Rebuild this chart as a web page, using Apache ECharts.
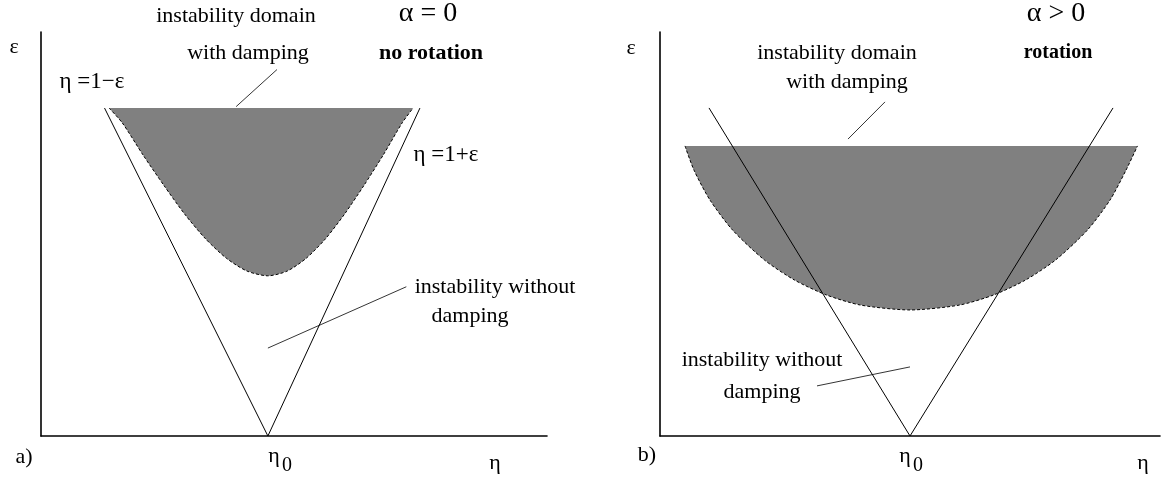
<!DOCTYPE html>
<html>

<head>
    <meta charset="utf-8">
    <title></title>
    <style>
        html, body { margin: 0; padding: 0; background: #fff; }
        #chart { width: 1163px; height: 480px; }
    </style>
</head>

<body>
    <div id="chart"></div>
    <script src="https://cdn.jsdelivr.net/npm/echarts@6/dist/echarts.min.js"></script>
    <script>
    // a) alpha = 0 : eta / epsilon values
    var leftVEta = [0.28, 1.0, 1.67];
    var leftVEps = [0.69, 0.0, 0.69];
    // damped domain boundary, left top -> bottom -> right top
    var leftDomEta = [0.30, 0.358, 0.450, 0.542, 0.633, 0.725, 0.817, 0.908, 1.00, 1.085, 1.169, 1.254, 1.338, 1.423, 1.508, 1.592, 1.64];
    var leftDomEps = [0.69, 0.659, 0.591, 0.527, 0.467, 0.415, 0.374, 0.347, 0.337, 0.347, 0.374, 0.415, 0.467, 0.527, 0.591, 0.659, 0.69];
    var leftPtrTop = [[1.04, 0.771], [0.86, 0.693]];
    var leftPtrLow = [[1.61, 0.314], [1.0, 0.185]];

    // b) alpha > 0
    var rightVEta = [0.196, 1.0, 1.812];
    var rightVEps = [0.812, 0.0, 0.812];
    var rightDomEta = [0.10, 0.136, 0.20, 0.29, 0.417, 0.538, 0.666, 0.803, 1.0, 1.197, 1.334, 1.462, 1.583, 1.71, 1.80, 1.864, 1.91];
    var rightDomEps = [0.718, 0.658, 0.584, 0.510, 0.436, 0.386, 0.349, 0.324, 0.312, 0.324, 0.349, 0.386, 0.436, 0.510, 0.584, 0.658, 0.718];
    var rightPtrTop = [[0.90, 0.827], [0.752, 0.735]];
    var rightPtrLow = [[1.0, 0.171], [0.628, 0.124]];

    var FONT = '"Liberation Serif", "DejaVu Serif", serif';

    function zip(xs, ys) {
        return xs.map(function(x, i) { return [x, ys[i]]; });
    }

    function domain(xs, ys) {
        return function(params, api) {
            var pts = xs.map(function(x, i) { return api.coord([x, ys[i]]); });
            return {
                type: 'group',
                children: [{
                    type: 'polyline',
                    shape: { points: pts, smooth: 0.25 },
                    style: { fill: '#808080', stroke: null }
                }, {
                    type: 'polyline',
                    shape: { points: pts, smooth: 0.25 },
                    style: { fill: null, stroke: '#000', lineWidth: 1, lineDash: [3, 2] }
                }]
            };
        };
    }

    function thin(idx, data, w) {
        return {
            type: 'line', xAxisIndex: idx, yAxisIndex: idx, data: data,
            symbol: 'none', silent: true, animation: false,
            lineStyle: { color: '#000', width: w }
        };
    }

    function txt(x, y, s, size, bold) {
        return {
            type: 'text', x: x, y: y, silent: true,
            style: {
                text: s, fill: '#000', textAlign: 'center', textVerticalAlign: 'middle',
                font: (bold ? 'bold ' : '') + size + 'px ' + FONT
            }
        };
    }

    var axisX = function(idx, max) {
        return {
            type: 'value', gridIndex: idx, min: 0, max: max,
            axisLine: { show: true, onZero: false, lineStyle: { color: '#000', width: 1.6 } },
            axisTick: { show: false }, axisLabel: { show: false }, splitLine: { show: false }
        };
    };
    var axisY = function(idx, max) {
        return {
            type: 'value', gridIndex: idx, min: 0, max: max,
            axisLine: { show: true, onZero: false, lineStyle: { color: '#000', width: 1.6 } },
            axisTick: { show: false }, axisLabel: { show: false }, splitLine: { show: false }
        };
    };

    var myChart = echarts.init(document.getElementById('chart'));

    var option = {
        animation: false,
        grid: [
            { left: 41, top: 32, width: 506, height: 404 },
            { left: 660, top: 32, width: 500, height: 404 }
        ],
        xAxis: [axisX(0, 2.23), axisX(1, 2.0)],
        yAxis: [axisY(0, 0.85), axisY(1, 1.0)],
        series: [{
            type: 'custom', xAxisIndex: 0, yAxisIndex: 0, silent: true,
            data: [[1, 0.5]],
            renderItem: domain(leftDomEta, leftDomEps)
        }, {
            type: 'custom', xAxisIndex: 1, yAxisIndex: 1, silent: true,
            data: [[1, 0.5]],
            renderItem: domain(rightDomEta, rightDomEps)
        },
            thin(0, zip(leftVEta, leftVEps), 1),
            thin(1, zip(rightVEta, rightVEps), 1),
            thin(0, leftPtrTop, 0.8),
            thin(0, leftPtrLow, 0.8),
            thin(1, rightPtrTop, 0.8),
            thin(1, rightPtrLow, 0.8)
        ],
        graphic: [
            // a)
            txt(236, 16, 'instability domain', 22),
            txt(428, 14, 'α = 0', 28),
            txt(14, 47, 'ε', 22),
            txt(248, 53, 'with damping', 22),
            txt(431, 53, 'no rotation', 22, true),
            txt(92, 82, 'η =1−ε', 23),
            txt(446, 155, 'η =1+ε', 23),
            txt(495, 287, 'instability without', 22),
            txt(470, 316, 'damping', 22),
            txt(24, 457, 'a)', 22),
            txt(274, 456, 'η', 22),
            txt(287, 466, '0', 20),
            txt(495, 463, 'η', 22),
            // b)
            txt(1056, 14, 'α > 0', 28),
            txt(631, 48, 'ε', 22),
            txt(837, 53, 'instability domain', 22),
            txt(847, 82, 'with damping', 22),
            txt(1058, 53, 'rotation', 20, true),
            txt(762, 360, 'instability without', 22),
            txt(762, 392, 'damping', 22),
            txt(647, 455, 'b)', 22),
            txt(905, 456, 'η', 22),
            txt(918, 466, '0', 20),
            txt(1143, 463, 'η', 22)
        ]
    };

    myChart.setOption(option);
    addEventListener('resize', myChart.resize);
    </script>
</body>

</html>
